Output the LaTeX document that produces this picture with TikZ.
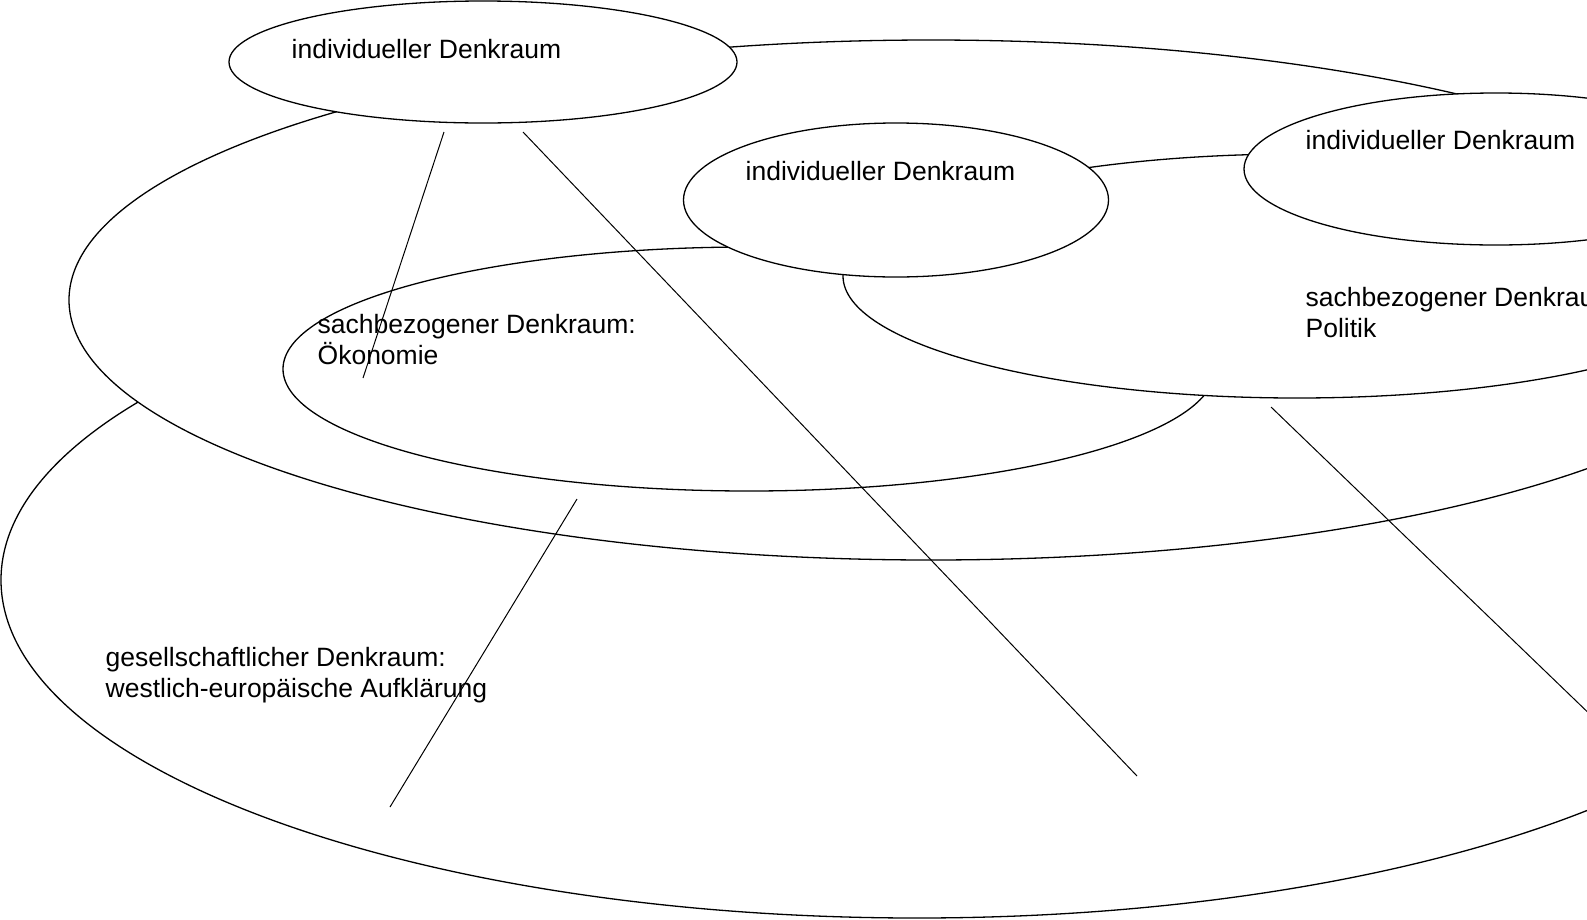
\documentclass[tikz,border=0pt]{standalone}
\usepackage{fontspec}
\setmainfont{Liberation Sans}
\usepackage{tikz}
\usetikzlibrary{shapes.geometric}

\begin{document}
\begin{tikzpicture}[x=1pt, y=-1pt, line width=1.3pt,
  font=\fontsize{26.5}{30.6}\selectfont,
  raum/.style={draw, ellipse, fill=white, inner sep=0pt, outer sep=0pt},
  beschriftung/.style={anchor=base west, align=left, inner sep=0pt}]
\useasboundingbox (0,0) rectangle (1587,919);
\node (gesellRaum) [raum, minimum width=1832pt, minimum height=676pt] at (917,580) {};
\node (indivRaum) [raum, minimum width=1724pt, minimum height=520pt] at (931,300) {};
\node (oekoRaum) [raum, minimum width=932pt, minimum height=244pt] at (749,369) {};
\node (polRaum) [raum, minimum width=908pt, minimum height=244pt] at (1297,276) {};
\node (indivB) [raum, minimum width=425pt, minimum height=154pt] at (896,200) {};
\node (indivC) [raum, minimum width=504pt, minimum height=152pt] at (1496,169) {};
\node (indivA) [raum, minimum width=508pt, minimum height=122pt] at (483,62) {};
% Beschriftungen
\node (txtA) [beschriftung] at (291,58) {individueller Denkraum};
\node (txtB) [beschriftung] at (745,180) {individueller Denkraum};
\node (txtC) [beschriftung] at (1305,149) {individueller Denkraum};
\node (txtOeko) [beschriftung] at (317,364) {sachbezogener Denkraum:\\Ökonomie};
\node (txtPol) [beschriftung] at (1305,337) {sachbezogener Denkraum:\\Politik};
\node (txtGesell) [beschriftung] at (105,697) {gesellschaftlicher Denkraum:\\westlich-europäische Aufklärung};
% Linien
\coordinate (l1a) at (444,132);
\coordinate (l1b) at (363,378);
\coordinate (l2a) at (523,132);
\coordinate (l2b) at (1137,776);
\coordinate (l3a) at (577,499);
\coordinate (l3b) at (390,807);
\coordinate (l4a) at (1271,407);
\coordinate (l4b) at (1600,724);
\draw[line width=1pt] (l1a) -- (l1b);
\draw[line width=1pt] (l2a) -- (l2b);
\draw[line width=1pt] (l3a) -- (l3b);
\draw[line width=1pt] (l4a) -- (l4b);
\end{tikzpicture}
\end{document}
